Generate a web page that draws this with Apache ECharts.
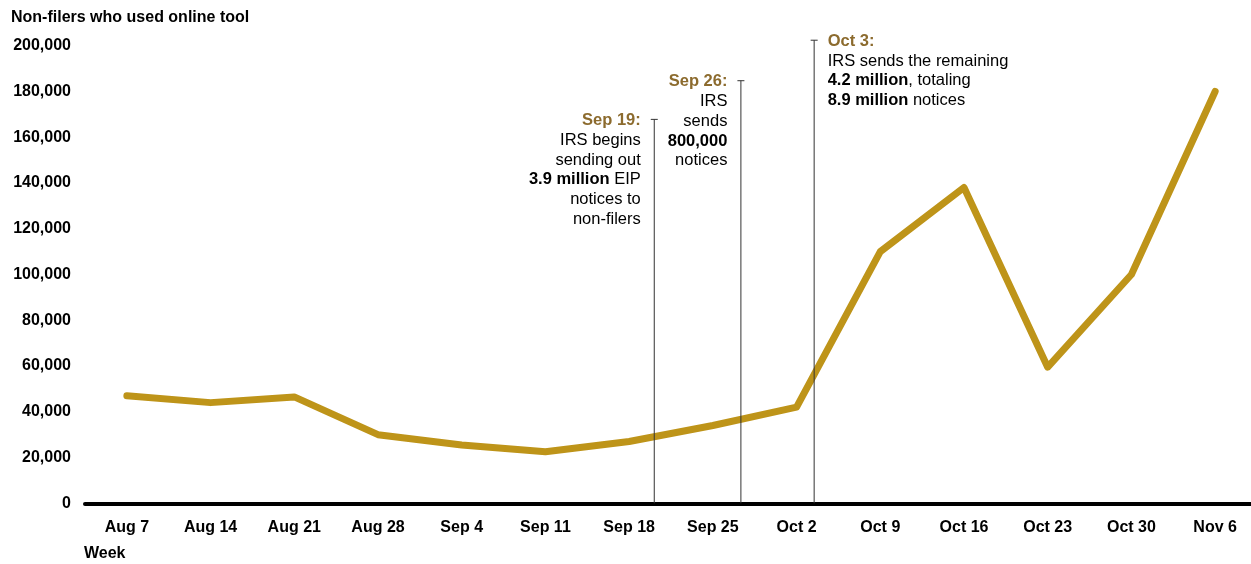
<!DOCTYPE html>
<html><head><meta charset="utf-8">
<script src="https://cdn.jsdelivr.net/npm/echarts@6/dist/echarts.min.js"></script>
<style>html,body{margin:0;padding:0;background:#fff;overflow:hidden;width:1251px;height:564px}#c{width:1257px;height:564px}</style>
</head><body><div id="c"></div>
<script>
const categories = ['Aug 7','Aug 14','Aug 21','Aug 28','Sep 4','Sep 11','Sep 18','Sep 25','Oct 2','Oct 9','Oct 16','Oct 23','Oct 30','Nov 6'];
const users = [47000,44000,46500,30000,25500,22500,27000,34000,42000,110000,138000,59500,100000,180000];
const yMin = 0, yMax = 200000, yStep = 20000;
const eventPos = [6.30, 7.335, 8.21];
const eventTop = [167800, 184700, 202400];
const eventSide = ['left','left','right'];
const eventText = [
  '{t|Sep 19:}\n{n|IRS begins}\n{n|sending out}\n{b|3.9 million}{n| EIP}\n{n|notices to}\n{n|non-filers}',
  '{t|Sep 26:}\n{n|IRS}\n{n|sends}\n{b|800,000}\n{n|notices}',
  '{t|Oct 3:}\n{n|IRS sends the remaining}\n{b|4.2 million}{n|, totaling}\n{b|8.9 million}{n| notices}'
];
const eventLines = [6, 5, 4];

const FONT = '"Liberation Sans", Arial, sans-serif';
const LH = 19.8;
const FS = 16.5;
function rich(align){
  return {
    t:{fontFamily:FONT,fontSize:FS,fontWeight:'bold',color:'#8C6B2E',lineHeight:LH,align:align},
    b:{fontFamily:FONT,fontSize:FS,fontWeight:'bold',color:'#000',lineHeight:LH,align:align},
    n:{fontFamily:FONT,fontSize:FS,color:'#000',lineHeight:LH,align:align}
  };
}

const eventSeries = eventPos.map((x,i)=>({
  type:'line', xAxisIndex:1, yAxisIndex:0, clip:false, silent:true, z:3,
  animation:false,
  lineStyle:{color:'#333', width:1},
  symbol:'rect', symbolSize:[7,1], showSymbol:true,
  itemStyle:{color:'#333'},
  data:[
    {value:[x,0], symbol:'none'},
    {value:[x,eventTop[i]], label:{
      show:true, position:eventSide[i], distance:10,
      offset:[0,(eventLines[i]-1)*LH/2 + 1],
      formatter:eventText[i],
      rich:rich(eventSide[i]==='left'?'right':'left')
    }}
  ]
}));

const chart = echarts.init(document.getElementById('c'), null, {renderer:'canvas'});
chart.setOption({
  animation:false,
  backgroundColor:'#fff',
  grid:{left:85, right:0, top:45.7, bottom:60.7, containLabel:false},
  title:{text:'Non-filers who used online tool', left:11, top:10, padding:0,
    textStyle:{fontFamily:FONT,fontSize:16,fontWeight:'bold',color:'#000'}},
  graphic:[{type:'text', left:84, top:546, style:{text:'Week', font:'bold 16px '+FONT, fill:'#000'}}],
  xAxis:[
    {type:'category', data:categories, boundaryGap:true,
     axisLine:{show:true, lineStyle:{color:'#000', width:4}},
     axisTick:{show:false},
     axisLabel:{margin:16, fontFamily:FONT, fontSize:16, fontWeight:'bold', color:'#000'},
     splitLine:{show:false}},
    {type:'value', min:-0.5, max:13.5, show:false}
  ],
  yAxis:{type:'value', min:yMin, max:yMax, interval:yStep,
    axisLine:{show:false}, axisTick:{show:false}, splitLine:{show:false},
    axisLabel:{margin:14, fontFamily:FONT, fontSize:16, fontWeight:'bold', color:'#000',
      formatter:v=>v.toLocaleString('en-US')}},
  series:[
    {type:'line', data:users, symbol:'none', z:2,
     lineStyle:{color:'#BE9419', width:7, cap:'round', join:'round'}},
    ...eventSeries
  ]
});
</script></body></html>
